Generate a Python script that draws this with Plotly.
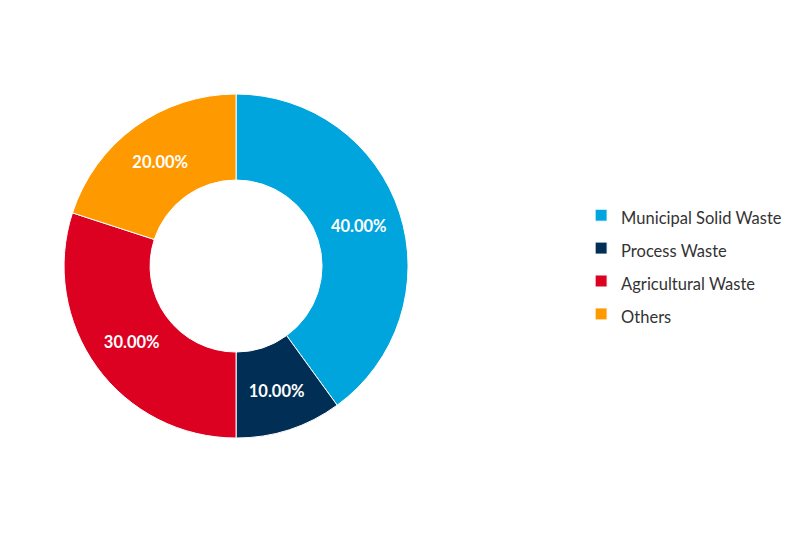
import plotly.graph_objects as go

# waste sources share
categories = ["Municipal Solid Waste", "Process Waste", "Agricultural Waste", "Others"]
shares = [40, 10, 30, 20]
colors = ["#00A5DE", "#002E54", "#DC0021", "#FF9900"]

fig = go.Figure(
    go.Pie(
        labels=[f"<span style='font-size:16.5px'>{c}</span>" for c in categories],
        values=shares,
        hole=0.5,
        sort=False,
        direction="clockwise",
        rotation=0,
        marker=dict(colors=colors, line=dict(color="white", width=1)),
        texttemplate="<b>%{percent:.2%}</b>",
        textposition="inside",
        insidetextorientation="horizontal",
        textfont=dict(color="white", size=16.5, family="Lato"),
        hoverinfo="label+percent",
        domain=dict(x=[0.0704, 0.5026], y=[0.1977, 0.8395]),
    )
)

fig.update_layout(
    width=796,
    height=536,
    margin=dict(l=0, r=0, t=0, b=0),
    paper_bgcolor="white",
    font=dict(family="Lato", color="#333333"),
    legend=dict(
        x=0.720,
        xanchor="left",
        y=0.521,
        yanchor="middle",
        font=dict(size=23, color="#333333"),
    ),
)

fig.write_html("out.html")
